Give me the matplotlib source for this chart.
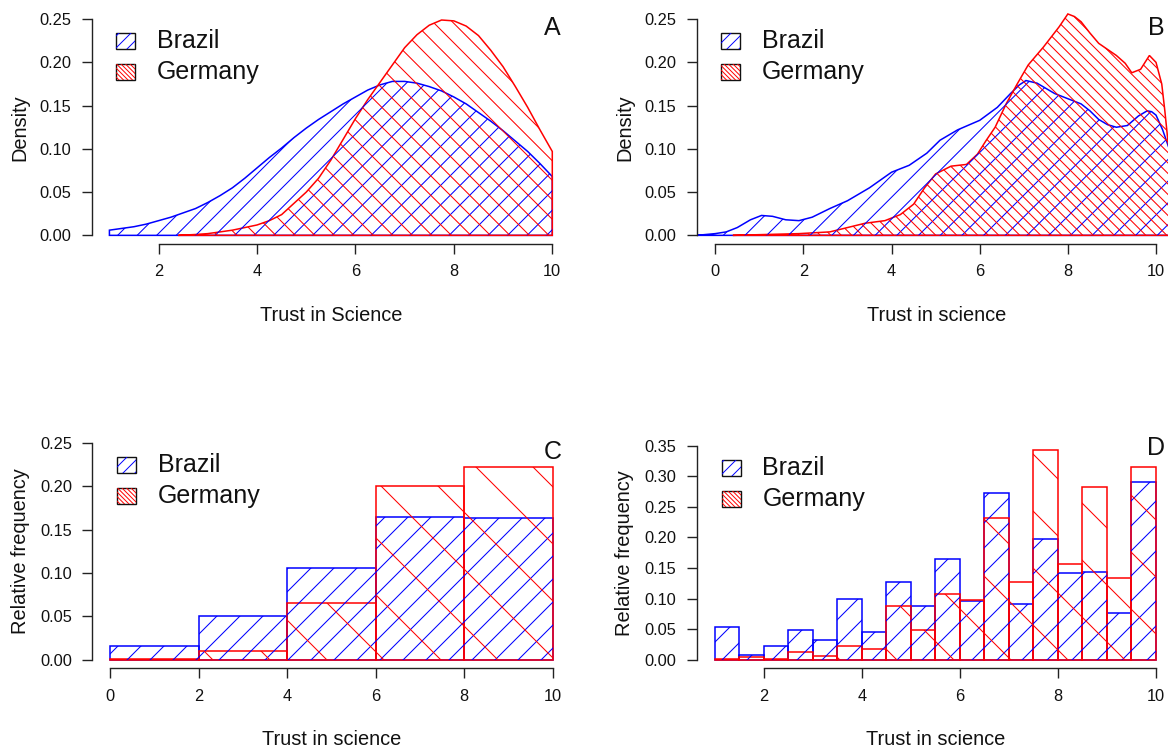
import numpy as np
import matplotlib
matplotlib.use('Agg')
import matplotlib.pyplot as plt
from matplotlib.collections import LineCollection
from matplotlib.patches import Rectangle
from matplotlib.transforms import IdentityTransform, ScaledTranslation

plt.rcParams['font.family'] = ['Liberation Sans', 'DejaVu Sans']

BLUE = '#0000ff'
RED = '#ff0000'

# ===============================
# Data
# ===============================
# A: kernel densities, trust in science (cut at 1..10)
a_brazil_x = [1.0, 1.25, 1.5, 1.75, 2.0, 2.25, 2.5, 2.75, 3.0, 3.25, 3.5, 3.75, 4.0, 4.25,
              4.5, 4.75, 5.0, 5.25, 5.5, 5.75, 6.0, 6.25, 6.5, 6.75, 7.0, 7.25, 7.5, 7.75,
              8.0, 8.25, 8.5, 8.75, 9.0, 9.25, 9.5, 9.75, 10.0]
a_brazil_y = [0.006, 0.008, 0.010, 0.013, 0.017, 0.021, 0.026, 0.031, 0.038, 0.046, 0.055,
              0.066, 0.078, 0.090, 0.101, 0.113, 0.124, 0.134, 0.143, 0.152, 0.160, 0.168,
              0.174, 0.178, 0.178, 0.176, 0.172, 0.167, 0.160, 0.152, 0.142, 0.132, 0.121,
              0.109, 0.097, 0.083, 0.068]
a_germany_x = [2.4, 2.75, 3.0, 3.25, 3.5, 3.75, 4.0, 4.25, 4.5, 4.75, 5.0, 5.25, 5.5, 5.75,
               6.0, 6.25, 6.5, 6.75, 7.0, 7.25, 7.5, 7.75, 8.0, 8.25, 8.5, 8.75, 9.0, 9.25,
               9.5, 9.75, 10.0]
a_germany_y = [0.000, 0.001, 0.002, 0.004, 0.006, 0.009, 0.012, 0.017, 0.024, 0.037, 0.050,
               0.066, 0.087, 0.111, 0.135, 0.157, 0.177, 0.197, 0.217, 0.232, 0.243, 0.249,
               0.248, 0.242, 0.231, 0.214, 0.195, 0.172, 0.148, 0.122, 0.097]

# B: kernel densities, trust in science (uncut)
b_brazil_x = [-0.42, 0.0, 0.25, 0.5, 0.8, 1.05, 1.3, 1.6, 1.9, 2.2, 2.6, 3.0, 3.5, 4.0, 4.4,
              4.8, 5.1, 5.5, 6.0, 6.4, 6.7, 6.9, 7.05, 7.3, 7.7, 8.0, 8.3, 8.5, 8.7, 8.9,
              9.1, 9.35, 9.6, 9.8, 9.9, 10.0, 10.15, 10.3, 10.46]
b_brazil_y = [0.000, 0.002, 0.004, 0.009, 0.018, 0.023, 0.022, 0.018, 0.017, 0.021, 0.031,
              0.040, 0.055, 0.073, 0.081, 0.095, 0.110, 0.122, 0.133, 0.148, 0.164, 0.174,
              0.179, 0.176, 0.164, 0.158, 0.152, 0.144, 0.134, 0.128, 0.125, 0.127, 0.138,
              0.144, 0.143, 0.139, 0.122, 0.100, 0.060]
b_germany_x = [0.4, 1.9, 2.6, 3.0, 3.4, 3.85, 4.2, 4.5, 4.75, 5.0, 5.35, 5.7, 5.95, 6.15,
               6.35, 6.6, 6.85, 7.1, 7.45, 7.8, 8.0, 8.15, 8.3, 8.5, 8.7, 9.1, 9.3, 9.45,
               9.65, 9.85, 10.0, 10.13, 10.2, 10.27, 10.46]
b_germany_y = [0.000, 0.002, 0.004, 0.009, 0.014, 0.017, 0.024, 0.036, 0.055, 0.071, 0.080,
               0.082, 0.094, 0.110, 0.125, 0.152, 0.175, 0.197, 0.218, 0.241, 0.256, 0.253,
               0.247, 0.234, 0.222, 0.208, 0.199, 0.188, 0.192, 0.208, 0.200, 0.175, 0.144,
               0.109, 0.050]

# C: histogram, breaks of width 2
c_breaks = [0, 2, 4, 6, 8, 10]
c_brazil = [0.016, 0.050, 0.106, 0.165, 0.163]
c_germany = [0.001, 0.010, 0.065, 0.200, 0.222]

# D: histogram, breaks of width 0.5
d_breaks = [1.0, 1.5, 2.0, 2.5, 3.0, 3.5, 4.0, 4.5, 5.0, 5.5, 6.0, 6.5, 7.0, 7.5, 8.0,
            8.5, 9.0, 9.5, 10.0]
d_brazil = [0.054, 0.008, 0.022, 0.048, 0.033, 0.100, 0.045, 0.127, 0.088, 0.165, 0.096,
            0.272, 0.091, 0.197, 0.142, 0.144, 0.077, 0.291]
d_germany = [0.001, 0.004, 0.0015, 0.012, 0.006, 0.023, 0.018, 0.088, 0.048, 0.108, 0.098,
             0.232, 0.127, 0.343, 0.156, 0.282, 0.134, 0.316]

groups = ['Brazil', 'Germany']

# ===============================
# Figure helpers
# ===============================
W, H = 1168, 751
fig = plt.figure(figsize=(W / 100, H / 100), dpi=100)


def px_axes(left, top, right, bottom):
    """axes from a pixel box measured from the top-left corner"""
    return fig.add_axes([left / W, 1 - bottom / H, (right - left) / W, (bottom - top) / H])


def hatch_lines(step, direction):
    # parallel 45 degree lines over the whole canvas, in pixels
    offs = np.arange(-(W + H), W + H, step)
    if direction > 0:
        return [[(c, 0), (c + H, H)] for c in offs]
    return [[(c, 0), (c - H, H)] for c in offs]


def hatch(ax, patch, step, direction, color, lw=0.75):
    """R style shading lines (density=, angle=) clipped to a patch"""
    lc = LineCollection(hatch_lines(step, direction), colors=color, linewidths=lw,
                        transform=IdentityTransform())
    if ax is None:
        fig.add_artist(lc)
    else:
        ax.add_collection(lc, autolim=False)
    lc.set_clip_path(patch)


def style_axes(ax, xlim, ylim, xticks, yticks):
    ax.set_xlim(xlim)
    ax.set_ylim(ylim)
    ax.patch.set_visible(False)
    for s in ['top', 'right']:
        ax.spines[s].set_visible(False)
    for s in ['left', 'bottom']:
        ax.spines[s].set_linewidth(1.0)
        ax.spines[s].set_color('#222222')
    ax.spines['left'].set_bounds(yticks[0], yticks[-1])
    ax.spines['bottom'].set_bounds(xticks[0], xticks[-1])
    ax.set_xticks(xticks)
    ax.set_xticklabels([f'{v:g}' for v in xticks])
    ax.set_yticks(yticks)
    ax.set_yticklabels([f'{v:.2f}' for v in yticks])
    ax.tick_params(direction='out', length=7.2, width=1.0, color='#222222',
                   labelsize=11.8, pad=7.5, labelcolor='#111111')


def labels(ax, xlabel, ylabel):
    off_x = ScaledTranslation(0, -0.71, fig.dpi_scale_trans)
    off_y = ScaledTranslation(-0.72, 0, fig.dpi_scale_trans)
    ax.text(0.5, 0, xlabel, transform=ax.transAxes + off_x, ha='center', va='center',
            fontsize=14.4, color='#111111')
    ax.text(0, 0.5, ylabel, transform=ax.transAxes + off_y, ha='center', va='center',
            rotation=90, fontsize=14.4, color='#111111')


def legend(box, steps):
    left, top = box[0] + 24.5, box[1] + 22.5
    for i, (name, col) in enumerate(zip(groups, [BLUE, RED])):
        y = top + 31 * i
        rect = Rectangle((left, H - y - 16), 19, 16, facecolor='none', edgecolor='#111111',
                         lw=1.0, transform=IdentityTransform())
        fig.add_artist(rect)
        hatch(None, rect, steps[i], 1 if i == 0 else -1, col, lw=0.7)
        fig.text((left + 41) / W, 1 - (y + 8) / H, name, ha='left', va='center',
                 fontsize=18, color='#111111')


def density_panel(box, xlim, xticks, series, steps, letter, xlabel):
    ax = px_axes(*box)
    style_axes(ax, xlim, (-0.01, 0.26), xticks, [0, 0.05, 0.10, 0.15, 0.20, 0.25])
    for (x, y), col, step, d in zip(series, [BLUE, RED], steps, [1, -1]):
        x = np.asarray(x)
        y = np.asarray(y)
        poly = ax.fill(np.r_[x, x[-1], x[0]], np.r_[y, 0, 0], facecolor='none',
                       edgecolor=col, lw=1.1)[0]
        hatch(ax, poly, step, d, col)
    ax.text(10, 0.24, letter, ha='center', va='center', fontsize=18, color='#111111')
    labels(ax, xlabel, 'Density')
    legend(box, [12, 4.5])
    return ax


def hist_panel(box, xlim, ylim, xticks, yticks, breaks, series, steps, letter, ly):
    ax = px_axes(*box)
    style_axes(ax, xlim, ylim, xticks, yticks)
    breaks = np.asarray(breaks)
    for vals, col, step, d in zip(series, [BLUE, RED], steps, [1, -1]):
        bars = ax.bar(breaks[:-1], vals, width=np.diff(breaks), align='edge', fill=False,
                      edgecolor=col, lw=1.1)
        for rect in bars:
            hatch(ax, rect, step, d, col)
    ax.text(10, ly, letter, ha='center', va='center', fontsize=18, color='#111111')
    labels(ax, 'Trust in science', 'Relative frequency')
    legend(box, [12, 4.5])
    return ax


# ===============================
# Panels
# ===============================
density_panel((91.7, 10.5, 570, 244), (0.64, 10.36), [2, 4, 6, 8, 10],
              [(a_brazil_x, a_brazil_y), (a_germany_x, a_germany_y)], [19.5, 19.5],
              'A', 'Trust in Science')
density_panel((696.7, 10.5, 1176.3, 244), (-0.42, 10.46), [0, 2, 4, 6, 8, 10],
              [(b_brazil_x, b_brazil_y), (b_germany_x, b_germany_y)], [21.7, 10.5],
              'B', 'Trust in science')
hist_panel((92.3, 434.5, 570.4, 668.3), (-0.4, 10.4), (-0.01, 0.26), [0, 2, 4, 6, 8, 10],
           [0, 0.05, 0.10, 0.15, 0.20, 0.25], c_breaks, [c_brazil, c_germany], [23, 57],
           'C', 0.24)
hist_panel((697, 437.2, 1173.6, 668.3), (0.64, 10.36), (-0.014, 0.364), [2, 4, 6, 8, 10],
           [0, 0.05, 0.10, 0.15, 0.20, 0.25, 0.30, 0.35], d_breaks, [d_brazil, d_germany],
           [25, 57], 'D', 0.347)

fig.savefig('out.png', dpi=100)
